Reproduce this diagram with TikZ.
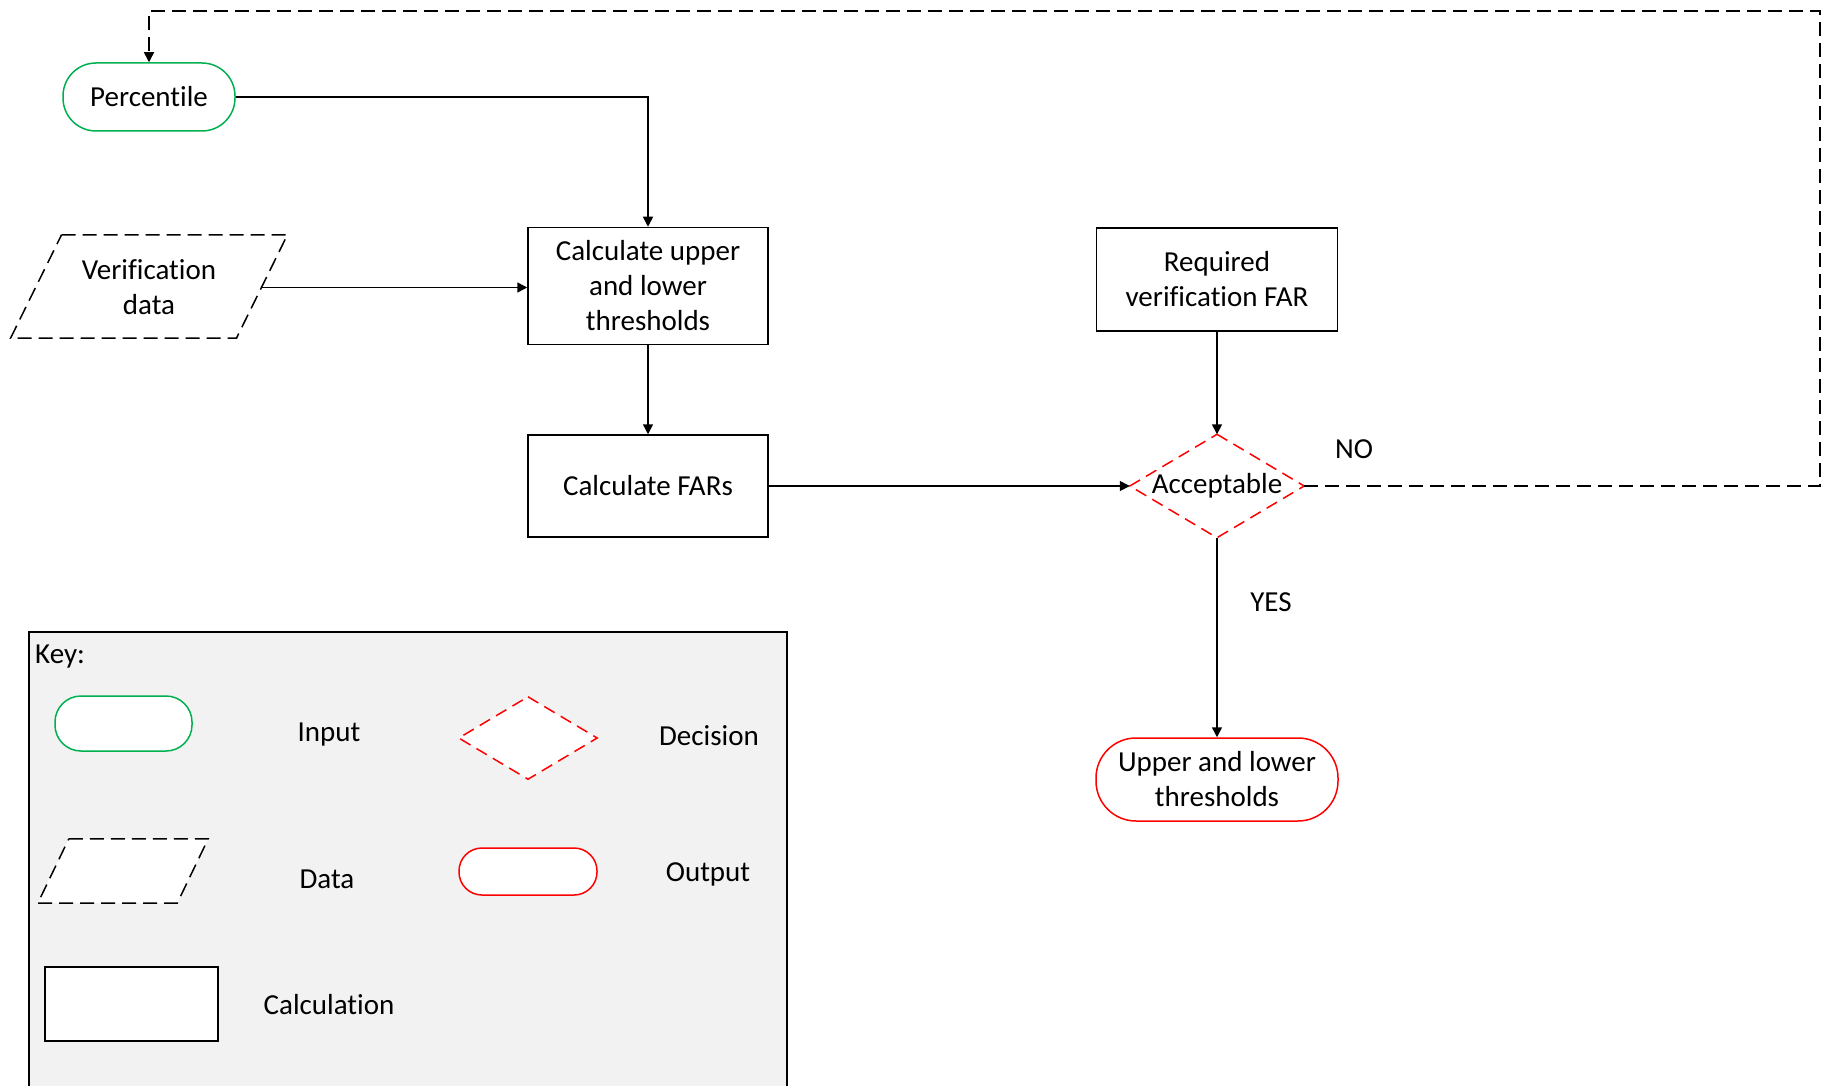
\documentclass[tikz,border=0pt]{standalone}
\usepackage{fontspec}
\setmainfont[Ligatures=NoCommon]{Carlito}
\usetikzlibrary{arrows.meta,calc}
\definecolor{inputgreen}{RGB}{0,176,80}
\definecolor{keygray}{RGB}{242,242,242}

\begin{document}
\begin{tikzpicture}[x=1pt,y=-1pt,
  every node/.style={font=\fontsize{29}{35}\selectfont, align=center, inner sep=0pt},
  line/.style={line width=1.5pt, draw=black},
  arr/.style={line, -{Triangle[length=10pt,width=10pt]}},
  dashline/.style={line, dash pattern=on 14pt off 7pt},
  calcbox/.style={draw, line width=1.5pt, fill=white},
  inputpill/.style={draw=inputgreen, line width=1.5pt, fill=white},
  outputpill/.style={draw=red, line width=1.5pt, fill=white},
  decision/.style={draw=red, line width=1.5pt, dash pattern=on 12pt off 7pt},
  datashape/.style={draw=black, line width=1.5pt, dash pattern=on 14pt off 7pt}]

\useasboundingbox (0,0) rectangle (1823,1086);

% ---- flowchart nodes ----
\node[inputpill, minimum width=172pt, minimum height=68pt, rounded corners=33pt] (pct) at (149,97) {Percentile};

\node[minimum width=225.5pt, minimum height=103pt] (vd) at (149,287.5) {Verification\\data};
\draw[datashape] ($(vd.north west)+(25.5,-1)$) -- ($(vd.north east)+(25.5,-1)$)
  -- ($(vd.south east)-(25.5,1)$) -- ($(vd.south west)-(25.5,1)$) -- cycle;

\node[calcbox, minimum width=240pt, minimum height=117pt] (cul) at (648,286) {Calculate upper\\and lower\\thresholds};
\node[calcbox, minimum width=240pt, minimum height=102pt] (far) at (648,486) {Calculate FARs};
\node[calcbox, minimum width=241pt, minimum height=103pt] (req) at (1217,279.5) {Required\\verification FAR};

\node[minimum width=174pt, minimum height=103pt] (acc) at (1217,486) {\raisebox{-2pt}{Acceptable}};
\draw[decision] (acc.north) -- (acc.east) -- (acc.south) -- (acc.west) -- cycle;

\node[outputpill, minimum width=242pt, minimum height=83pt, rounded corners=40pt] (out) at (1217,779.5) {Upper and lower\\thresholds};

% ---- connectors ----
\draw[arr] (pct.east) -| (cul.north);
\draw[arr] (vd.east) -- (vd.east -| cul.west);
\draw[arr] (cul.south) -- (far.north);
\draw[arr] (far.east) -- (acc.west);
\draw[arr] (req.south) -- (acc.north);
\draw[arr] (acc.south) -- (out.north);

\coordinate (loopR) at (1820,486);
\coordinate (loopT) at (1820,11);
\draw[dashline, -{Triangle[length=10pt,width=10pt]}] (acc.east) -- (loopR) -- (loopT) -| (pct.north);

\node (no) at (1354,449) {NO};
\node (yes) at (1271,602) {YES};

% ---- key ----
\node[draw, line width=1.5pt, fill=keygray, minimum width=758pt, minimum height=480pt, anchor=north west] (key) at (28,631) {};
\node[anchor=west] (keylbl) at (35,657) {Key:};

\node[inputpill, minimum width=137pt, minimum height=55pt, rounded corners=26pt] (kin) at (123.5,723.5) {};
\node (kinl) at (329,735) {Input};

\node[minimum width=138pt, minimum height=82pt] (kdec) at (528,738) {};
\draw[decision, fill=white] (kdec.north) -- (kdec.east) -- (kdec.south) -- (kdec.west) -- cycle;
\node (kdecl) at (709,736) {Decision};

\node[minimum width=139pt, minimum height=64pt] (kdat) at (123,871) {};
\draw[datashape, fill=white] ($(kdat.north west)+(15.5,0)$) -- ($(kdat.north east)+(15.5,0)$)
  -- ($(kdat.south east)-(15.5,0)$) -- ($(kdat.south west)-(15.5,0)$) -- cycle;
\node (kdatl) at (327,879) {Data};

\node[outputpill, minimum width=138pt, minimum height=47pt, rounded corners=23pt] (kout) at (528,871.5) {};
\node (koutl) at (708,874) {Output};

\node[calcbox, minimum width=173pt, minimum height=74pt] (kcalc) at (131.5,1004) {};
\node (kcalcl) at (329,1005) {Calculation};

\end{tikzpicture}
\end{document}
